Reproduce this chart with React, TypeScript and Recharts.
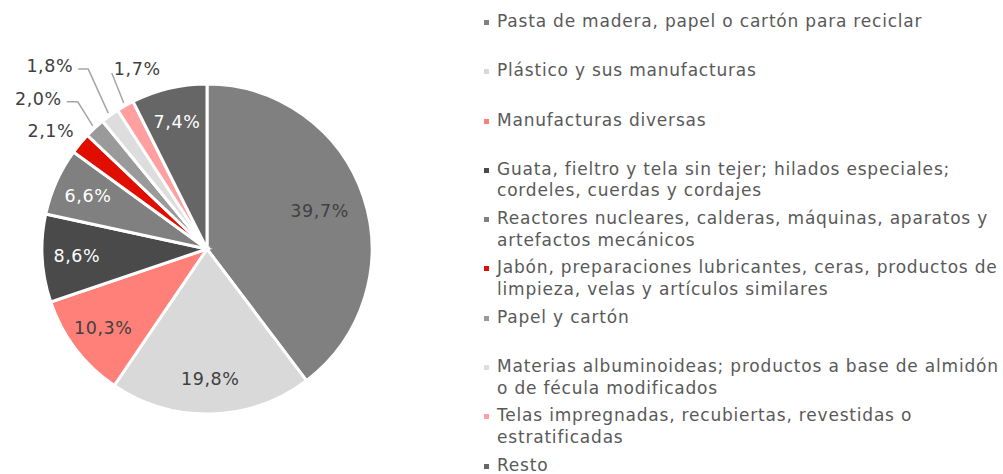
import React from 'react';
import { PieChart, Pie, Cell } from 'recharts';

document.body.style.margin = '0';

const categories = [
  'Pasta de madera, papel o cartón para reciclar',
  'Plástico y sus manufacturas',
  'Manufacturas diversas',
  'Guata, fieltro y tela sin tejer; hilados especiales;\ncordeles, cuerdas y cordajes',
  'Reactores nucleares, calderas, máquinas, aparatos y\nartefactos mecánicos',
  'Jabón, preparaciones lubricantes, ceras, productos de\nlimpieza, velas y artículos similares',
  'Papel y cartón',
  'Materias albuminoideas; productos a base de almidón\no de fécula modificados',
  'Telas impregnadas, recubiertas, revestidas o\nestratificadas',
  'Resto',
];
const shares = [39.7, 19.8, 10.3, 8.6, 6.6, 2.1, 2.0, 1.8, 1.7, 7.4];
const colors = ['#808080', '#d9d9d9', '#ff8078', '#4a4a4a', '#808080', '#e00e00', '#9a9a9a', '#dddddd', '#ff9f9f', '#666666'];
const labelColors = ['#404040', '#404040', '#404040', '#ffffff', '#ffffff', '#404040', '#404040', '#404040', '#404040', '#ffffff'];

const data = categories.map((name, i) => ({ name, value: shares[i] }));

const FONT = "'DejaVu Sans', sans-serif";
const RAD = Math.PI / 180;
const LABEL_SIZE = 17.5;

// small slices get their label outside: elbow offset from the slice edge, horizontal run
const outside: Record<number, { dx: number; dy: number; run: number; kind: 'none' | 'left' | 'up' }> = {
  5: { dx: -27, dy: -11, run: 0, kind: 'none' },
  6: { dx: -15, dy: -24, run: 11, kind: 'left' },
  7: { dx: -20, dy: -44, run: 10, kind: 'left' },
  8: { dx: -12, dy: -30, run: 0, kind: 'up' },
};

const renderLabel = (props: any) => {
  const { cx, cy, midAngle, outerRadius, index, value } = props;
  const text = value.toFixed(1).replace('.', ',') + '%';
  const cos = Math.cos(-midAngle * RAD);
  const sin = Math.sin(-midAngle * RAD);
  const common = { fontSize: LABEL_SIZE, fontFamily: FONT, letterSpacing: 0.6, dominantBaseline: 'central' as const };
  const o = outside[index];
  if (!o) {
    const r = outerRadius * (index === 0 ? 0.72 : 0.79);
    return (
      <text x={cx + r * cos} y={cy + r * sin} fill={labelColors[index]} textAnchor="middle" {...common}>
        {text}
      </text>
    );
  }
  const sx = cx + (outerRadius + 3) * cos;
  const sy = cy + (outerRadius + 3) * sin;
  const ex = sx + o.dx;
  const ey = sy + o.dy;
  if (o.kind === 'none') {
    return (
      <text x={ex} y={ey} fill="#404040" textAnchor="middle" {...common}>
        {text}
      </text>
    );
  }
  if (o.kind === 'up') {
    return (
      <g>
        <polyline points={`${sx},${sy} ${ex},${ey}`} stroke="#a6a6a6" strokeWidth={1.5} fill="none" />
        <text x={ex + 2} y={ey - 4} fill="#404040" textAnchor="start" {...common}>
          {text}
        </text>
      </g>
    );
  }
  return (
    <g>
      <polyline points={`${sx},${sy} ${ex},${ey} ${ex - o.run},${ey}`} stroke="#a6a6a6" strokeWidth={1.5} fill="none" />
      <text x={ex - o.run - 5} y={ey - 3} fill="#404040" textAnchor="end" {...common}>
        {text}
      </text>
    </g>
  );
};

const LegendList = () => (
  <div
    style={{
      position: 'absolute',
      left: 484,
      top: 11,
      width: 519,
      fontFamily: FONT,
      fontSize: 17,
      letterSpacing: 0.8,
      color: '#595959',
    }}
  >
    {categories.map((name, i) => (
      <div key={name} style={{ height: 49.3, display: 'flex', alignItems: 'flex-start' }}>
        <span style={{ width: 5, height: 5, background: colors[i], marginTop: 9, marginRight: 8, flexShrink: 0 }} />
        <span style={{ whiteSpace: 'pre', lineHeight: '21.5px' }}>{name}</span>
      </div>
    ))}
  </div>
);

export default function App() {
  return (
    <div style={{ position: 'relative', width: 1003, height: 474, background: '#fff', overflow: 'hidden' }}>
      <PieChart width={1003} height={474} margin={{ top: 0, right: 0, bottom: 0, left: 0 }}>
        <Pie
          data={data}
          dataKey="value"
          nameKey="name"
          cx={207}
          cy={249}
          outerRadius={165}
          startAngle={90}
          endAngle={-270}
          stroke="#ffffff"
          strokeWidth={3}
          label={renderLabel}
          labelLine={false}
          isAnimationActive={false}
        >
          {data.map((d, i) => (
            <Cell key={d.name} fill={colors[i]} />
          ))}
        </Pie>
      </PieChart>
      <LegendList />
    </div>
  );
}
